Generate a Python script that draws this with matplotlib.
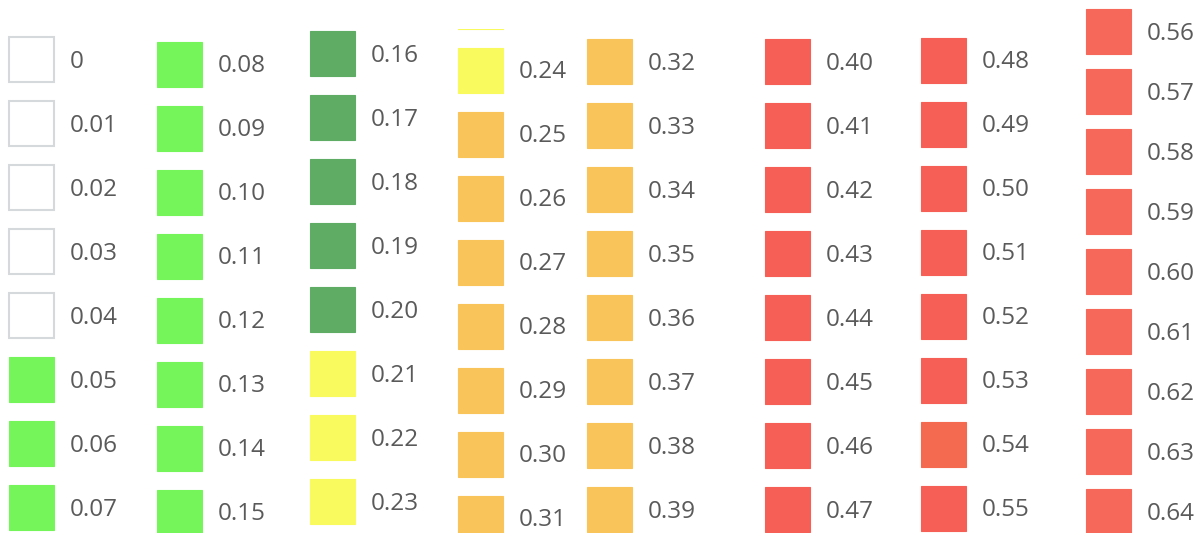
import matplotlib.pyplot as plt
from matplotlib.patches import Rectangle

# legend values, one column of swatches each
columns = [
    ["0", "0.01", "0.02", "0.03", "0.04", "0.05", "0.06", "0.07"],
    ["0.08", "0.09", "0.10", "0.11", "0.12", "0.13", "0.14", "0.15"],
    ["0.16", "0.17", "0.18", "0.19", "0.20", "0.21", "0.22", "0.23"],
    ["", "0.24", "0.25", "0.26", "0.27", "0.28", "0.29", "0.30", "0.31"],
    ["0.32", "0.33", "0.34", "0.35", "0.36", "0.37", "0.38", "0.39"],
    ["0.40", "0.41", "0.42", "0.43", "0.44", "0.45", "0.46", "0.47"],
    ["0.48", "0.49", "0.50", "0.51", "0.52", "0.53", "0.54", "0.55"],
    ["0.56", "0.57", "0.58", "0.59", "0.60", "0.61", "0.62", "0.63", "0.64"],
]

# swatch colour for each value bucket
empty = "white"
green = "#76F55A"
dkgreen = "#5FAD65"
yellow = "#F8FA5E"
orange = "#F9C55B"
red = "#F65F55"
red2 = "#F6685A"
red3 = "#F46A50"

swatches = [
    [empty] * 5 + [green] * 3,
    [green] * 8,
    [dkgreen] * 5 + [yellow] * 3,
    [yellow] * 2 + [orange] * 7,
    [orange] * 8,
    [red] * 8,
    [red] * 6 + [red3] + [red],
    [red2] * 9,
]

# layout in pixels
col_x = [9, 157, 310, 458, 587, 765, 921, 1086]
col_top = [37, 42, 31, -16, 39, 39, 38, 9]
col_step = [64, 64, 64, 64, 64, 64, 64, 60]
col_clip = [None, None, None, 29, None, None, None, None]
box = 45
gap = 16

W, H = 1204, 533
fig = plt.figure(figsize=(W / 100, H / 100), dpi=100)
ax = fig.add_axes([0, 0, 1, 1])
ax.set_xlim(0, W)
ax.set_ylim(H, 0)
ax.axis("off")

for c, labels in enumerate(columns):
    x = col_x[c]
    clip = None
    if col_clip[c] is not None:
        clip = Rectangle((x - 5, col_clip[c]), 200, H, transform=ax.transData)
    for i, lab in enumerate(labels):
        y = col_top[c] + i * col_step[c]
        fc = swatches[c][i]
        ec = "#D6D9DC" if fc == empty else fc
        lw = 1.5 if fc == empty else 0.8
        r = Rectangle((x, y), box, box, facecolor=fc, edgecolor=ec, linewidth=lw)
        ax.add_patch(r)
        if clip is not None:
            r.set_clip_path(clip)
        if lab:
            ax.text(x + box + gap, y + box / 2 + 2, lab, fontsize=17.5,
                    family="Open Sans", color="#5A5A5A", va="center", ha="left")

fig.savefig("out.png", dpi=100, facecolor="white")
